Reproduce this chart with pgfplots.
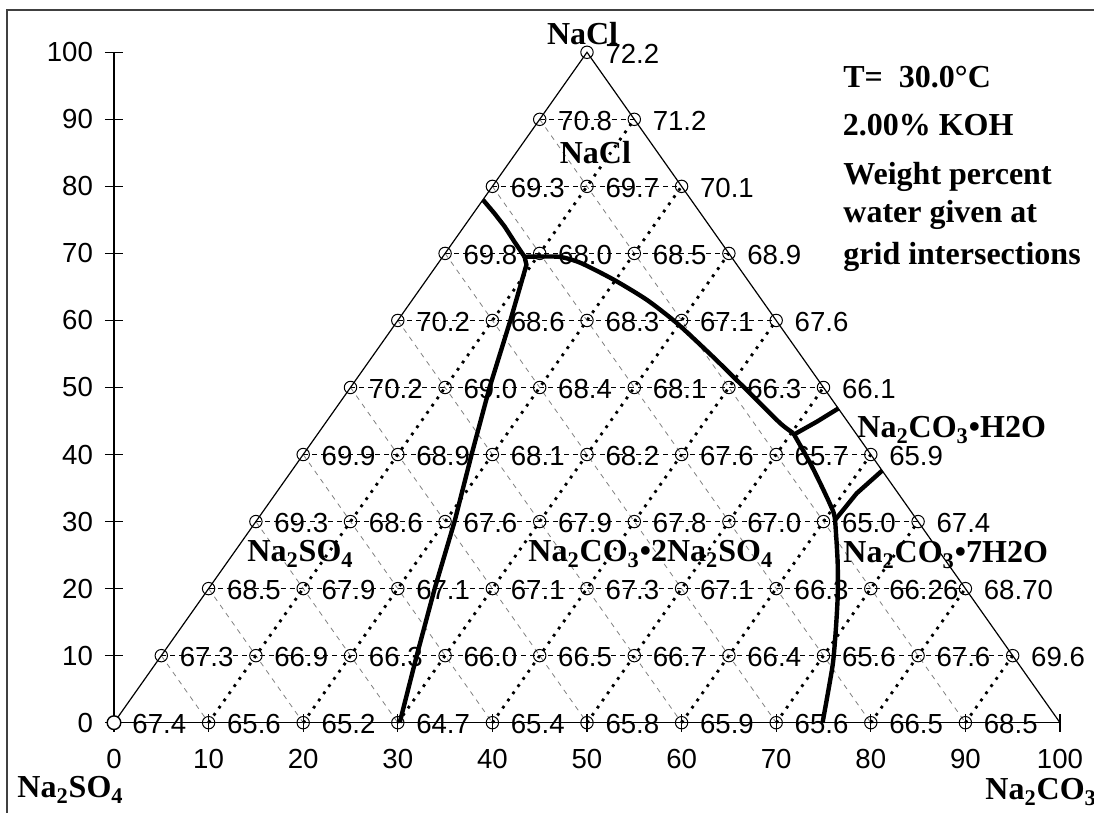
\documentclass[border=0pt]{standalone}
\usepackage{pgfplots}
\pgfplotsset{compat=1.18}
\usepackage{fontspec}
\setmainfont{Liberation Serif}
\newfontfamily\arial{Liberation Sans}

\pgfplotstableread{
x y w
50 100 72.2
45 90 70.8
55 90 71.2
40 80 69.3
50 80 69.7
60 80 70.1
35 70 69.8
45 70 68.0
55 70 68.5
65 70 68.9
30 60 70.2
40 60 68.6
50 60 68.3
60 60 67.1
70 60 67.6
25 50 70.2
35 50 69.0
45 50 68.4
55 50 68.1
65 50 66.3
75 50 66.1
20 40 69.9
30 40 68.9
40 40 68.1
50 40 68.2
60 40 67.6
70 40 65.7
80 40 65.9
15 30 69.3
25 30 68.6
35 30 67.6
45 30 67.9
55 30 67.8
65 30 67.0
75 30 65.0
85 30 67.4
10 20 68.5
20 20 67.9
30 20 67.1
40 20 67.1
50 20 67.3
60 20 67.1
70 20 66.3
80 20 66.26
90 20 68.70
5 10 67.3
15 10 66.9
25 10 66.3
35 10 66.0
45 10 66.5
55 10 66.7
65 10 66.4
75 10 65.6
85 10 67.6
95 10 69.6
0 0 67.4
10 0 65.6
20 0 65.2
30 0 64.7
40 0 65.4
50 0 65.8
60 0 65.9
70 0 65.6
80 0 66.5
90 0 68.5
}\gridpts

\begin{document}
\begin{tikzpicture}
\useasboundingbox (-57pt,-45.15pt) rectangle (490pt,361.35pt);
\begin{axis}[
  at={(0,0)}, anchor=south west,
  scale only axis, width=473pt, height=335.2pt,
  xmin=0, xmax=100, ymin=0, ymax=100,
  axis x line=bottom, axis y line=left,
  axis line style={-, line width=0.6pt},
  xtick={0,10,...,100}, ytick={0,10,...,100},
  tick align=center, major tick length=9pt,
  tick style={black, line width=0.6pt},
  ticklabel style={font=\arial\fontsize{13.8}{16}\selectfont},
  xticklabel style={yshift=-7.5pt, inner sep=1pt},
  yticklabel style={xshift=-2.5pt},
  /pgf/number format/assume math mode=true,
  clip=false,
]
% horizontal dashed grid
\addplot[black, line width=0.5pt, dash pattern=on 2.5pt off 2pt, unbounded coords=jump]
  table[row sep=\\] {x y\\ 5 10\\ 95 10\\ nan nan\\ 10 20\\ 90 20\\ nan nan\\ 15 30\\ 85 30\\ nan nan\\
  20 40\\ 80 40\\ nan nan\\ 25 50\\ 75 50\\ nan nan\\ 30 60\\ 70 60\\ nan nan\\ 35 70\\ 65 70\\ nan nan\\
  40 80\\ 60 80\\ nan nan\\ 45 90\\ 55 90\\};
% thin gray dashed (parallel to right side)
\addplot[black!50, line width=0.4pt, dash pattern=on 2.5pt off 2.5pt, unbounded coords=jump]
  table[row sep=\\] {x y\\ 5 10\\ 10 0\\ nan nan\\ 10 20\\ 20 0\\ nan nan\\ 15 30\\ 30 0\\ nan nan\\
  20 40\\ 40 0\\ nan nan\\ 25 50\\ 50 0\\ nan nan\\ 30 60\\ 60 0\\ nan nan\\ 35 70\\ 70 0\\ nan nan\\
  40 80\\ 80 0\\ nan nan\\ 45 90\\ 90 0\\};
% thick dotted (parallel to left side)
\addplot[black, line width=1.4pt, dash pattern=on 1.4pt off 3pt, unbounded coords=jump]
  table[row sep=\\] {x y\\ 10 0\\ 55 90\\ nan nan\\ 20 0\\ 60 80\\ nan nan\\ 30 0\\ 65 70\\ nan nan\\
  40 0\\ 70 60\\ nan nan\\ 50 0\\ 75 50\\ nan nan\\ 60 0\\ 80 40\\ nan nan\\ 70 0\\ 85 30\\ nan nan\\
  80 0\\ 90 20\\ nan nan\\ 90 0\\ 95 10\\};
% triangle sides
\addplot[black, line width=0.6pt] coordinates {(0,0) (50,100) (100,0)};
% grid points with water content
\addplot[only marks, mark=o, mark size=3.1pt, mark options={line width=0.5pt, black},
  point meta=explicit symbolic, nodes near coords,
  every node near coord/.append style={anchor=west, xshift=9pt, yshift=-0.8pt, inner sep=0pt,
    font=\arial\fontsize{13.8}{16}\selectfont, text=black}]
  table[x=x, y=y, meta=w] {\gridpts};
\addplot[only marks, mark=*, mark size=3.4pt, mark options={fill=white, draw=black, line width=0.7pt}]
  coordinates {(0,0)};
% phase boundaries
\addplot[black, line width=2.2pt, line join=round] coordinates {
  (39.0,78.0) (40.2,76.0) (41.3,74.0) (42.3,71.8) (43.4,69.5)};
\addplot[black, line width=2.2pt, line join=round] coordinates {
  (43.4,69.5) (43.6,68.3) (41.9,60) (39.7,50) (37.8,40) (36.0,30) (33.9,20) (32.0,10) (30.2,0)};
\addplot[black, line width=2.2pt, line join=round, smooth, tension=0.4] coordinates {
  (43.4,69.5) (47.0,69.5) (49.3,68.6) (52.8,66.1) (56.3,63.1) (59.5,59.6) (63.3,54.6)
  (66.9,49.6) (70.4,44.7) (71.8,43.2)};
\addplot[black, line width=2.2pt, line join=round, smooth, tension=0.4] coordinates {
  (71.8,43.2) (73.6,38.7) (75.0,34.7) (76.1,31.2) (76.3,28.7) (76.5,23.8) (76.5,18.8)
  (76.3,13.8) (76.0,8.9) (75.4,3.9) (74.9,0)};
\addplot[black, line width=2.2pt, line join=round] coordinates {
  (71.9,43.0) (74.3,44.9) (76.6,46.9)};
\addplot[black, line width=2.2pt, line join=round] coordinates {
  (76.2,30.2) (78.5,34.2) (81.2,37.6)};
\end{axis}
% outer chart frame
\draw[black!75, line width=1pt] (-53.5pt,-60pt) -- (-53.5pt,356.1pt) -- (500pt,356.1pt);
% labels
\begin{scope}[every node/.style={anchor=base west, inner sep=0pt, font=\bfseries\fontsize{16}{19}\selectfont}]
\node at (364.5pt,317.7pt) {T=\ \ 30.0°C};
\node at (364.2pt,293.35pt) {2.00\% KOH};
\node at (364.5pt,268.85pt) {Weight percent};
\node at (364.5pt,249.85pt) {water given at};
\node at (364.5pt,228.85pt) {grid intersections};
\node at (216.3pt,338.85pt) {NaCl};
\node at (222.7pt,279.7pt) {NaCl};
\node at (66.5pt,80.35pt) {Na\textsubscript{2}SO\textsubscript{4}};
\node at (207pt,80.35pt) {Na\textsubscript{2}CO\textsubscript{3}•2Na\textsubscript{2}SO\textsubscript{4}};
\node at (371.5pt,142.35pt) {Na\textsubscript{2}CO\textsubscript{3}•H2O};
\node at (364.5pt,79.85pt) {Na\textsubscript{2}CO\textsubscript{3}•7H2O};
\node at (-48.5pt,-37.65pt) {Na\textsubscript{2}SO\textsubscript{4}};
\node at (435.5pt,-38.65pt) {Na\textsubscript{2}CO\textsubscript{3}};
\end{scope}
\end{tikzpicture}
\end{document}
